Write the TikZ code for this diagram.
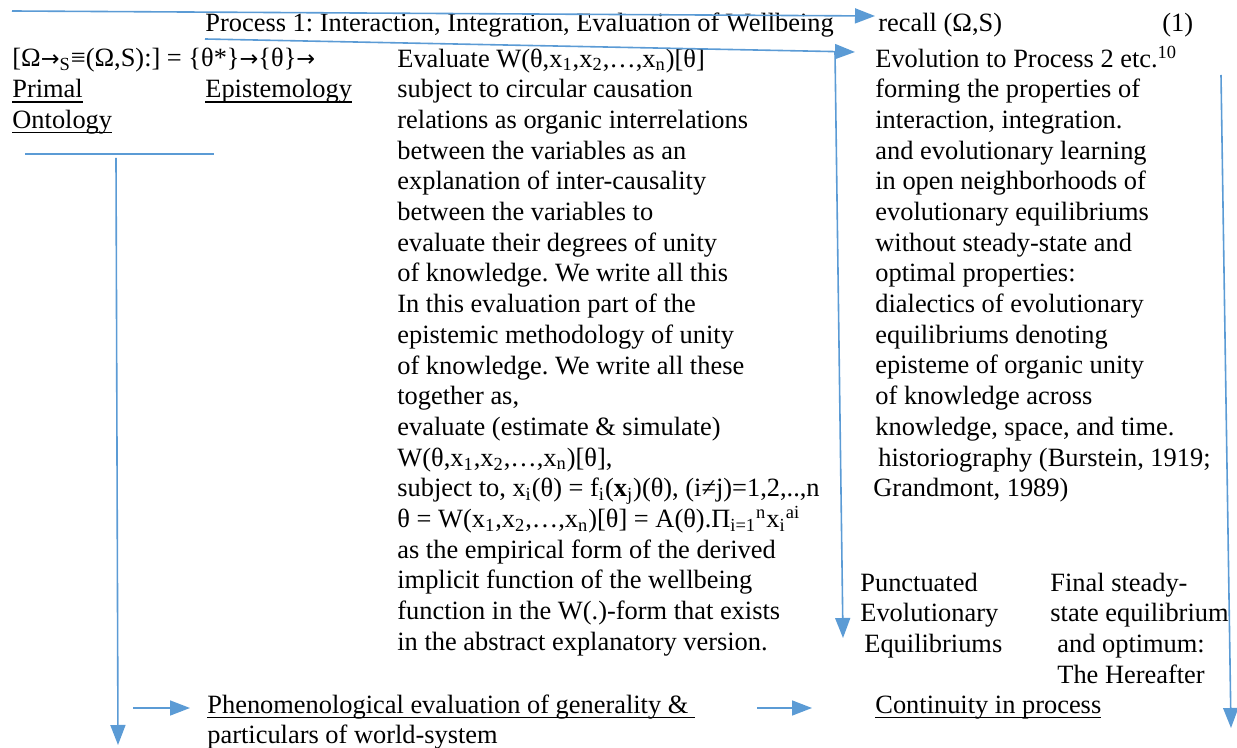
\documentclass[tikz,border=0pt]{standalone}
\usepackage{fontspec}
\setmainfont{Liberation Serif}
\newfontfamily\arrfont[Scale=0.85]{DejaVu Sans}
\usetikzlibrary{arrows.meta}
\definecolor{wblue}{HTML}{5B9BD5}
\newcommand\myul[1]{\setbox0\hbox{#1}\rlap{\rule[-2.5pt]{\wd0}{0.65pt}}\box0}
\newcommand\ra{{\arrfont →}}
\frenchspacing
\begin{document}
\begin{tikzpicture}[x=0.5pt,y=-0.5pt,
  txt/.style={inner sep=0pt, anchor=base west, font=\fontsize{13.2}{15.35}\selectfont\frenchspacing, align=left},
  arr/.style={draw=wblue, line width=0.8pt, -{Triangle[length=10pt,width=7.5pt]}},
  ln/.style={draw=wblue, line width=0.8pt}]
\useasboundingbox (0,0) rectangle (1237,748);
% texts (multi-line nodes are placed by the baseline of their last line)
\node[txt] (proc) at (205,32) {Process 1: Interaction, Integration, Evaluation of Wellbeing};
\node[txt] (recall) at (878,32) {recall (Ω,S)};
\node[txt] (eqno) at (1162,32) {(1)};
\node[txt] (omega) at (12,67) {[Ω\ra\textsubscript{S}≡(Ω,S):] = \{θ*\}\ra\{θ\}\ra};
\node[txt] (primal) at (12,97.7) {\myul{Primal}};
\node[txt] (ontology) at (12,128.4) {\myul{Ontology}};
\node[txt] (episteme) at (205,97.7) {\myul{Epistemology}};
\node[txt] (mid) at (397,650.3) {Evaluate W(θ,x\textsubscript{1},x\textsubscript{2},…,x\textsubscript{n})[θ]\\
subject to circular causation\\
relations as organic interrelations\\
between the variables as an\\
explanation of inter-causality\\
between the variables to\\
evaluate their degrees of unity\\
of knowledge. We write all this\\
In this evaluation part of the\\
epistemic methodology of unity\\
of knowledge. We write all these\\
together as,\\
evaluate (estimate \& simulate)\\
W(θ,x\textsubscript{1},x\textsubscript{2},…,x\textsubscript{n})[θ],\\
subject to, x\textsubscript{i}(θ) = f\textsubscript{i}(\textbf{x}\textsubscript{j})(θ), (i≠j)=1,2,..,n\\
θ = W(x\textsubscript{1},x\textsubscript{2},…,x\textsubscript{n})[θ] = A(θ).Π\textsubscript{i=1}\textsuperscript{n}x\textsubscript{i}\textsuperscript{ai}\\
as the empirical form of the derived\\
implicit function of the wellbeing\\
function in the W(.)-form that exists\\
in the abstract explanatory version.};
\node[txt] (right) at (875,496.8) {Evolution to Process 2 etc.\textsuperscript{10}\\
forming the properties of\\
interaction, integration.\\
and evolutionary learning\\
in open neighborhoods of\\
evolutionary equilibriums\\
without steady-state and\\
optimal properties:\\
dialectics of evolutionary\\
equilibriums denoting\\
episteme of organic unity\\
of knowledge across\\
knowledge, space, and time.\\
\hspace{1.5pt}historiography (Burstein, 1919;\\
\hspace{-1pt}Grandmont, 1989)};
\node[txt] (punct) at (860,652.4) {Punctuated\\Evolutionary\\\hspace{2pt}Equilibriums};
\node[txt] (final) at (1050,683.1) {Final steady-\\state equilibrium\\\hspace{3.5pt}and optimum:\\\hspace{3.5pt}The Hereafter};
\node[txt] (phen) at (207,713) {\myul{Phenomenological evaluation of generality \&\ }};
\node[txt] (phen2) at (207,743) {particulars of world-system};
\node[txt] (cont) at (875,713) {\myul{Continuity in process}};
% connector ends
\coordinate (t0) at (12,11);
\coordinate (t1) at (875,16);
\coordinate (s0) at (205,39);
\coordinate (s1) at (855,52);
\coordinate (v0) at (835,52);
\coordinate (v1) at (843,638);
\coordinate (r0) at (1221,75);
\coordinate (r1) at (1231,728);
\coordinate (h0) at (25,154);
\coordinate (h1) at (214,154);
\coordinate (l0) at (116,158);
\coordinate (l1) at (118,745);
\coordinate (p0) at (133,708);
\coordinate (p1) at (190,708);
\coordinate (c0) at (757,708);
\coordinate (c1) at (812,708);
% connectors
\draw[arr] (t0) -- (t1);
\draw[arr] (s0) -- (s1);
\draw[arr] (v0) -- (v1);
\draw[arr] (r0) -- (r1);
\draw[ln] (h0) -- (h1);
\draw[arr] (l0) -- (l1);
\draw[arr] (p0) -- (p1);
\draw[arr] (c0) -- (c1);
\end{tikzpicture}
\end{document}
